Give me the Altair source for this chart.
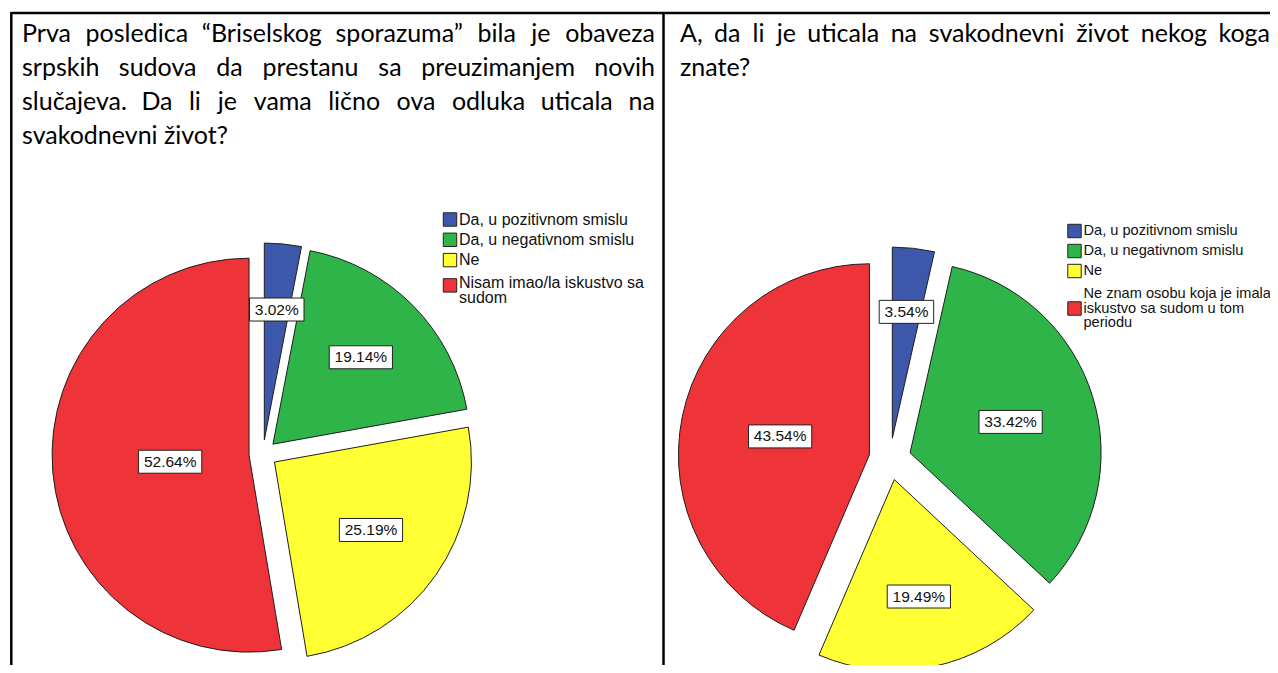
import altair as alt
import pandas as pd

# ---------------- data ----------------
CATS_L = ["Da, u pozitivnom smislu", "Da, u negativnom smislu", "Ne",
          "Nisam imao/la iskustvo sa sudom"]
VALS_L = [3.02, 19.14, 25.19, 52.64]
CATS_R = ["Da, u pozitivnom smislu", "Da, u negativnom smislu", "Ne",
          "Ne znam osobu koja je imala iskustvo sa sudom u tom periodu"]
VALS_R = [3.54, 33.42, 19.49, 43.54]
LEGEND_L = ["Da, u pozitivnom smislu", "Da, u negativnom smislu", "Ne",
            "Nisam imao/la iskustvo sa\nsudom"]
LEGEND_R = ["Da, u pozitivnom smislu", "Da, u negativnom smislu", "Ne",
            "Ne znam osobu koja je imala\niskustvo sa sudom u tom\nperiodu"]
COLORS = ["#3d58ab", "#2fb44a", "#ffff33", "#ee3439"]
TITLE_L = ["Prva posledica \u201cBriselskog sporazuma\u201d bila je obaveza",
           "srpskih sudova da prestanu sa preuzimanjem novih",
           "slu\u010dajeva. Da li je vama li\u010dno ova odluka uticala na",
           "svakodnevni \u017eivot?"]
TITLE_R = ["A, da li je uticala na svakodnevni \u017eivot nekog koga",
           "znate?"]

# ---------------- layout / style ----------------
TFONT = "Lato"
TSIZE = 25
LFONT = "Liberation Sans"
PIE = {"L": dict(cx=255, cy=446, R=197, d=14), "R": dict(cx=882, cy=451, R=191, d=21)}

# approximate advance widths (em) for justifying the question text
CW = {' ': .193, 'a': .49, 'b': .55, 'c': .456, 'd': .55, 'e': .515, 'f': .32, 'g': .5,
      'h': .55, 'i': .24, 'j': .24, 'k': .5, 'l': .24, 'm': .82, 'n': .55, 'o': .55,
      'p': .55, 'r': .37, 's': .43, 't': .35, 'u': .55, 'v': .51, 'z': .45,
      '\u010d': .456, '\u017e': .45, 'P': .58, 'B': .63, 'D': .70, 'A': .67,
      ',': .2, '.': .2, '?': .4, '\u201c': .31, '\u201d': .31}


def wlen(s):
    return sum(CW.get(c, .5) for c in s) * TSIZE


def title_rows(lines, x0, x1, y0, lh):
    rows = []
    for i, line in enumerate(lines):
        y = y0 + i * lh
        words = line.split(" ")
        justified = i < len(lines) - 1
        if not justified:
            rows.append(dict(t=line, x=x0, y=y, al="left"))
            continue
        ws = [wlen(w) for w in words]
        gap = (x1 - x0 - sum(ws)) / (len(words) - 1)
        pos = x0
        for j, w in enumerate(words):
            if j == 0:
                rows.append(dict(t=w, x=x0, y=y, al="left"))
            elif j == len(words) - 1:
                rows.append(dict(t=w, x=x1, y=y, al="right"))
            else:
                rows.append(dict(t=w, x=pos + ws[j] / 2, y=y, al="center"))
            pos += ws[j] + gap
    return rows


trows = title_rows(TITLE_L, 14, 647, 34, 34) + title_rows(TITLE_R, 672, 1262, 34, 34)
tdf = pd.DataFrame(trows)

# pie table
pie_rows = []
for panel, cats, vals in (("L", CATS_L, VALS_L), ("R", CATS_R, VALS_R)):
    for i, (c, v) in enumerate(zip(cats, vals)):
        pie_rows.append(dict(panel=panel, order=i, cat=c, value=v, color=COLORS[i],
                             label=f"{v:.2f}%"))
pie_df = pd.DataFrame(pie_rows)

# legend table (one row per text line)
LEG = {"L": dict(sx=442, y0=211.5, step=20.3, lh=15, fs=16),
       "R": dict(sx=1066.5, y0=223, step=20, lh=14.5, fs=14.6)}
leg_sq, leg_tx = [], []
for panel, labels in (("L", LEGEND_L), ("R", LEGEND_R)):
    g = LEG[panel]
    y = g["y0"]
    for i, lab in enumerate(labels):
        parts = lab.split("\n")
        n = len(parts)
        if n == 1:
            sq_y = y
            block_c = y
        else:
            block_c = y + (n - 1) * g["lh"] / 2 + 3
            sq_y = block_c if n % 2 == 1 else block_c - g["lh"] / 2 + 2
        leg_sq.append(dict(x=g["sx"], y=sq_y, color=COLORS[i]))
        for j, p in enumerate(parts):
            leg_tx.append(dict(t=p, x=g["sx"] + 9, y=block_c + (j - (n - 1) / 2) * g["lh"],
                               fs=g["fs"]))
        y = block_c + (n - 1) * g["lh"] / 2 + g["step"] + (4 if n > 1 else 0)
sq_df = pd.DataFrame(leg_sq)
ltx_df = pd.DataFrame(leg_tx)

X = lambda f: alt.X(f, scale=None, axis=None)
Y = lambda f: alt.Y(f, scale=None, axis=None)

# ---------------- pies ----------------
cx_e = f"datum.panel == 'L' ? {PIE['L']['cx']} : {PIE['R']['cx']}"
cy_e = f"datum.panel == 'L' ? {PIE['L']['cy']} : {PIE['R']['cy']}"
R_e = f"datum.panel == 'L' ? {PIE['L']['R']} : {PIE['R']['R']}"
d_e = f"datum.panel == 'L' ? {PIE['L']['d']} : {PIE['R']['d']}"

base = (alt.Chart(pie_df)
        .transform_stack(stack="value", groupby=["panel"], as_=["v0", "v1"],
                         sort=[alt.SortField("order", order="ascending")])
        .transform_joinaggregate(total="sum(value)", groupby=["panel"])
        .transform_calculate(a0="2*PI*datum.v0/datum.total")
        .transform_calculate(a1="2*PI*datum.v1/datum.total")
        .transform_calculate(mid="(datum.a0+datum.a1)/2")
        .transform_calculate(half="(datum.a1-datum.a0)/2")
        .transform_calculate(cx=cx_e)
        .transform_calculate(cy=cy_e)
        .transform_calculate(R=R_e)
        .transform_calculate(d=d_e)
        .transform_calculate(vx="datum.cx + datum.d*sin(datum.mid)")
        .transform_calculate(vy="datum.cy - datum.d*cos(datum.mid)")
        .transform_calculate(lr="2/3*datum.R*sin(datum.half)/datum.half")
        .transform_calculate(lx="datum.vx + datum.lr*sin(datum.mid)")
        .transform_calculate(ly="datum.vy - datum.lr*cos(datum.mid)")
        .transform_calculate(bw="length(datum.label)*8.7+11")
        .transform_calculate(bx0="datum.lx - datum.bw/2")
        .transform_calculate(bx1="datum.lx + datum.bw/2")
        .transform_calculate(by0="datum.ly - 11.5")
        .transform_calculate(by1="datum.ly + 11.5"))

arcs = base.mark_arc(stroke="#1e1e1e", strokeWidth=1).encode(
    theta=alt.Theta("a0:Q", scale=None, stack=False),
    theta2="a1:Q",
    x=X("vx:Q"), y=Y("vy:Q"),
    radius=alt.Radius("R:Q", scale=None),
    fill=alt.Fill("color:N", scale=None),
)
boxes = base.mark_rect(fill="white", stroke="#222", strokeWidth=1).encode(
    x=X("bx0:Q"), x2="bx1:Q", y=Y("by0:Q"), y2="by1:Q")
labels = base.mark_text(font=LFONT, fontSize=15.5, color="#111", align="center",
                        baseline="middle").encode(x=X("lx:Q"), y=Y("ly:Q"), text="label:N")

# ---------------- legends ----------------
squares = alt.Chart(sq_df).mark_square(size=180, stroke="#222", strokeWidth=1, opacity=1).encode(
    x=X("x:Q"), y=Y("y:Q"), fill=alt.Fill("color:N", scale=None))
leg_text = alt.Chart(ltx_df).mark_text(font=LFONT, align="left", baseline="middle",
                                       color="#111").encode(
    x=X("x:Q"), y=Y("y:Q"), text="t:N", size=alt.Size("fs:Q", scale=None))

# ---------------- question text ----------------
tlayers = []
for al in ("left", "center", "right"):
    sub = tdf[tdf["al"] == al]
    tlayers.append(alt.Chart(sub).mark_text(font=TFONT, fontSize=TSIZE, align=al,
                                            baseline="alphabetic", color="#000").encode(
        x=X("x:Q"), y=Y("y:Q"), text="t:N"))

# ---------------- table borders ----------------
borders = [
    alt.Chart(pd.DataFrame({"a": [0]})).mark_rule(color="#000", strokeWidth=2.5).encode(
        x=alt.value(3.3), x2=alt.value(1262), y=alt.value(5), y2=alt.value(5)),
    alt.Chart(pd.DataFrame({"a": [0]})).mark_rule(color="#000", strokeWidth=2.5).encode(
        x=alt.value(3.3), x2=alt.value(3.3), y=alt.value(4), y2=alt.value(657)),
    alt.Chart(pd.DataFrame({"a": [0]})).mark_rule(color="#000", strokeWidth=2.5).encode(
        x=alt.value(655.5), x2=alt.value(655.5), y=alt.value(4), y2=alt.value(657)),
]

chart = alt.layer(arcs, boxes, labels, squares, leg_text, *tlayers, *borders).properties(
    width=1262, height=657, padding=0,
    autosize=alt.AutoSizeParams(type="none"),
    background="white",
).configure_view(strokeWidth=0)

chart.save("out.html", embed_options={"renderer": "svg", "actions": False})
